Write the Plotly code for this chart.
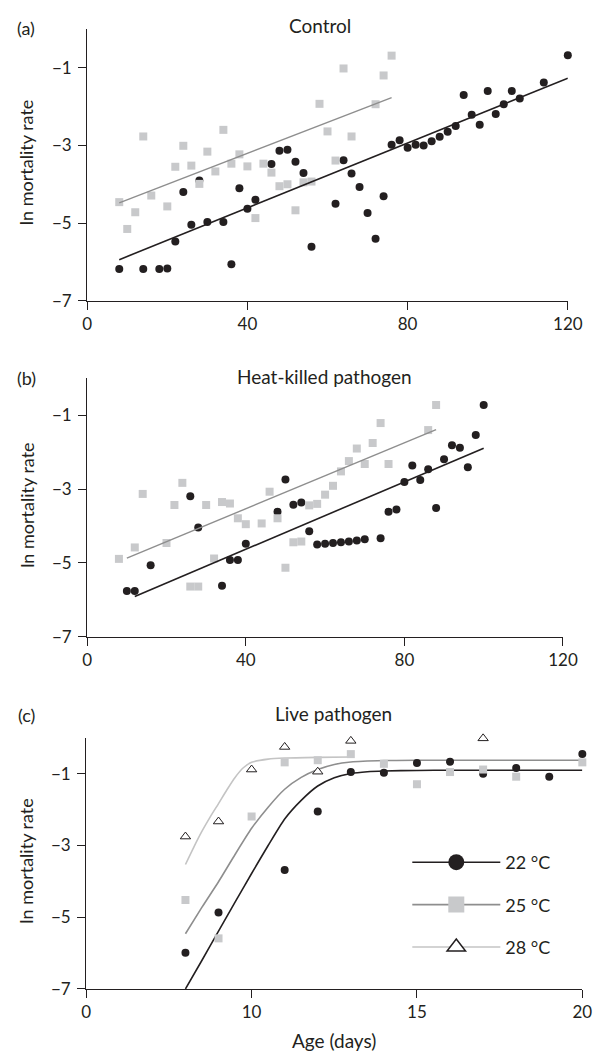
import plotly.graph_objects as go

# ---------------- data ----------------
# (a) Control
a22_x = [8, 14, 18, 20, 22, 24, 26, 28, 30, 34, 36, 38, 40, 42, 46, 48, 50, 52, 54, 56,
         62, 64, 66, 68, 70, 72, 74, 76, 78, 80, 82, 84, 86, 88, 90, 92, 94, 96, 98, 100,
         102, 104, 106, 108, 114, 120]
a22_y = [-6.18, -6.18, -6.18, -6.17, -5.47, -4.20, -5.04, -3.90, -4.97, -4.97, -6.06, -4.10,
         -4.63, -4.40, -3.48, -3.14, -3.11, -3.42, -3.71, -5.61, -4.50, -3.38, -3.72, -4.07,
         -4.74, -5.40, -4.31, -2.98, -2.87, -3.06, -2.98, -3.00, -2.89, -2.78, -2.65, -2.50,
         -1.70, -2.21, -2.47, -1.60, -2.19, -1.94, -1.60, -1.79, -1.38, -0.68]
a25_x = [8, 10, 12, 14, 16, 20, 22, 24, 26, 28, 30, 32, 34, 36, 38, 40, 42, 44, 46, 48, 50,
         52, 54, 56, 58, 60, 62, 64, 66, 72, 74, 76]
a25_y = [-4.46, -5.15, -4.72, -2.77, -4.29, -4.57, -3.55, -3.01, -3.52, -3.99, -3.16, -3.67,
         -2.60, -3.47, -3.23, -3.54, -4.87, -3.47, -3.70, -4.05, -4.00, -4.67, -3.95, -3.93,
         -1.93, -2.64, -3.39, -1.02, -2.77, -1.94, -1.20, -0.69]
a22_fit_x = [8, 120]
a22_fit_y = [-5.94, -1.27]
a25_fit_x = [8, 76]
a25_fit_y = [-4.48, -1.77]

# (b) Heat-killed pathogen
b22_x = [10, 12, 16, 26, 28, 34, 36, 38, 40, 48, 50, 52, 54, 56, 58, 60, 62, 64, 66, 68, 70,
         74, 76, 78, 80, 82, 84, 86, 88, 90, 92, 94, 96, 98, 100]
b22_y = [-5.76, -5.76, -5.06, -3.19, -4.04, -5.62, -4.92, -4.92, -4.48, -3.61, -2.74, -3.42,
         -3.36, -4.14, -4.50, -4.48, -4.46, -4.44, -4.42, -4.39, -4.36, -4.33, -3.61, -3.55,
         -2.81, -2.36, -2.75, -2.46, -3.51, -2.19, -1.81, -1.88, -2.41, -1.53, -0.72]
b25_x = [8, 12, 14, 20, 22, 24, 26, 28, 30, 32, 34, 36, 38, 40, 44, 46, 48, 50, 52, 54, 56,
         58, 60, 62, 64, 66, 68, 70, 72, 74, 76, 86, 88]
b25_y = [-4.89, -4.58, -3.13, -4.46, -3.43, -2.83, -5.64, -5.64, -3.43, -4.88, -3.35, -3.39,
         -3.79, -3.95, -3.93, -3.07, -3.79, -5.13, -4.44, -4.42, -3.44, -3.40, -3.15, -2.91,
         -2.52, -2.24, -1.90, -2.32, -1.75, -1.21, -2.32, -1.40, -0.72]
b22_fit_x = [12, 100]
b22_fit_y = [-5.91, -1.89]
b25_fit_x = [10, 88]
b25_fit_y = [-4.87, -1.39]

# (c) Live pathogen
c22_x = [8, 9, 11, 12, 13, 14, 15, 16, 17, 18, 19, 20]
c22_y = [-5.99, -4.87, -3.68, -2.05, -0.95, -0.97, -0.70, -0.66, -1.00, -0.84, -1.08, -0.45]
c25_x = [8, 9, 10, 11, 12, 13, 14, 15, 16, 17, 18, 20]
c25_y = [-4.52, -5.59, -2.19, -0.68, -0.62, -0.45, -0.72, -1.29, -0.95, -0.88, -1.08, -0.68]
c28_x = [8, 9, 10, 11, 12, 13, 17]
c28_y = [-2.75, -2.33, -0.88, -0.25, -0.94, -0.08, -0.01]

c22_fit_x = [8, 8.5, 9, 9.5, 10, 10.5, 11, 11.5, 12, 12.5, 13, 13.5, 14, 15, 16, 18, 20]
c22_fit_y = [-7.0, -6.2, -5.39, -4.58, -3.78, -3.0, -2.26, -1.74, -1.34, -1.11, -0.99, -0.94,
             -0.92, -0.905, -0.90, -0.90, -0.90]
c25_fit_x = [8, 8.5, 9, 9.5, 10, 10.5, 11, 11.5, 12, 12.5, 13, 14, 15, 20]
c25_fit_y = [-5.46, -4.72, -4.01, -3.25, -2.52, -1.93, -1.43, -1.10, -0.88, -0.74, -0.67,
             -0.63, -0.62, -0.62]
c28_fit_x = [8, 8.25, 8.5, 8.75, 9, 9.25, 9.5, 9.75, 10, 10.5, 11, 12, 13]
c28_fit_y = [-3.53, -3.05, -2.60, -2.20, -1.83, -1.45, -1.10, -0.83, -0.68, -0.59, -0.56,
             -0.54, -0.53]

y_ticks = [-7, -5, -3, -1]
ab_x_ticks = [0, 40, 80, 120]
c_x_tickvals = [5, 10, 15, 20]
c_x_ticktext = ["0", "10", "15", "20"]
legend_names = ["22 °C", "25 °C", "28 °C"]
panel_titles = ["Control", "Heat-killed pathogen", "Live pathogen"]
panel_labels = ["(a)", "(b)", "(c)"]

# ---------------- style ----------------
W, H = 607, 1063
FONT = "Lato"
INK = "#231f20"
SQ = "#c8c9cb"
MID = "#8e8e8e"
LIGHT = "#c4c4c4"

def px_x(p):
    return p / W

def px_y(p):
    return 1 - p / H

# panel geometry (pixels)
dom = {
    "a": dict(x0=85, x1=582, y0=29.1, y1=303.7),
    "b": dict(x0=85, x1=577, y0=382.0, y1=642.8),
    "c": dict(x0=84, x1=597, y0=745.0, y1=998.3),
}

fig = go.Figure()

def scatter_markers(x, y, ax, symbol, color, size=8, line=None):
    fig.add_trace(go.Scatter(
        x=x, y=y, mode="markers", xaxis=ax[0], yaxis=ax[1], showlegend=False,
        cliponaxis=False,
        marker=dict(symbol=symbol, color=color, size=size,
                    line=line if line else dict(width=0)),
        hoverinfo="skip"))

def fit_line(x, y, ax, color, width=1.6, spline=False):
    fig.add_trace(go.Scatter(
        x=x, y=y, mode="lines", xaxis=ax[0], yaxis=ax[1], showlegend=False,
        line=dict(color=color, width=width, shape="spline" if spline else "linear",
                  smoothing=0.6),
        hoverinfo="skip"))

# (a)
scatter_markers(a22_x, a22_y, ("x", "y"), "circle", INK)
scatter_markers(a25_x, a25_y, ("x", "y"), "square", SQ)
fit_line(a25_fit_x, a25_fit_y, ("x", "y"), MID, 1.4)
fit_line(a22_fit_x, a22_fit_y, ("x", "y"), INK, 1.6)

# (b)
scatter_markers(b22_x, b22_y, ("x2", "y2"), "circle", INK)
scatter_markers(b25_x, b25_y, ("x2", "y2"), "square", SQ)
fit_line(b25_fit_x, b25_fit_y, ("x2", "y2"), MID, 1.4)
fit_line(b22_fit_x, b22_fit_y, ("x2", "y2"), INK, 1.6)

# (c)
fit_line(c28_fit_x, c28_fit_y, ("x3", "y3"), LIGHT, 1.6, spline=True)
fit_line(c25_fit_x, c25_fit_y, ("x3", "y3"), MID, 1.6, spline=True)
fit_line(c22_fit_x, c22_fit_y, ("x3", "y3"), INK, 1.6, spline=True)
scatter_markers(c22_x, c22_y, ("x3", "y3"), "circle", INK)
scatter_markers(c25_x, c25_y, ("x3", "y3"), "square", SQ)
scatter_markers(c28_x, c28_y, ("x3", "y3"), "triangle-up", "white", size=9,
                line=dict(color=INK, width=1))

# legend-only traces
leg_styles = [
    dict(symbol="circle", color=INK, size=16, line=dict(width=0)),
    dict(symbol="square", color=SQ, size=16, line=dict(width=0)),
    dict(symbol="triangle-up", color="white", size=16, line=dict(color=INK, width=1.5)),
]
leg_lines = [INK, MID, LIGHT]
for name, ms, lc in zip(legend_names, leg_styles, leg_lines):
    fig.add_trace(go.Scatter(
        x=[None], y=[None], mode="lines+markers", name=name, legendgroup=name,
        xaxis="x3", yaxis="y3", marker=ms, line=dict(color=lc, width=1.6)))

axis_common = dict(showline=True, linecolor=INK, linewidth=1.2, ticks="outside",
                   ticklen=8, tickwidth=1.2, tickcolor=INK, showgrid=False,
                   zeroline=False, tickfont=dict(family=FONT, size=17, color=INK),
                   fixedrange=True)

layout = dict(
    width=W, height=H, margin=dict(l=0, r=0, t=0, b=0),
    paper_bgcolor="white", plot_bgcolor="white",
    font=dict(family=FONT, color=INK),
    legend=dict(x=px_x(416), y=px_y(852), xanchor="left", yanchor="top",
                font=dict(family=FONT, size=18, color=INK), tracegroupgap=16,
                bgcolor="rgba(0,0,0,0)", itemsizing="trace", itemwidth=88),
)
for key, ax_x, ax_y, yname in [("a", "xaxis", "yaxis", "y"), ("b", "xaxis2", "yaxis2", "y2"),
                               ("c", "xaxis3", "yaxis3", "y3")]:
    d = dom[key]
    xd = [px_x(d["x0"]), px_x(d["x1"])]
    yd = [px_y(d["y1"]), px_y(d["y0"])]
    xname = {"a": "x", "b": "x2", "c": "x3"}[key]
    if key == "c":
        xa = dict(axis_common, domain=xd, anchor=yname, range=[5, 20],
                  tickvals=c_x_tickvals, ticktext=c_x_ticktext)
    else:
        xa = dict(axis_common, domain=xd, anchor=yname, range=[0, 120],
                  tickvals=ab_x_ticks)
    ya = dict(axis_common, domain=yd, anchor=xname, range=[-7, 0], tickvals=y_ticks,
              ticklabelstandoff=3)
    layout[ax_x] = xa
    layout[ax_y] = ya

annotations = []
for key, title, lab in zip(["a", "b", "c"], panel_titles, panel_labels):
    d = dom[key]
    title_y = {"a": 26, "b": 380, "c": 720}[key]
    title_x = {"a": 326, "b": 330, "c": 340}[key]
    annotations.append(dict(text=title, x=px_x(title_x), y=px_y(title_y), xref="paper",
                            yref="paper", showarrow=False, xanchor="center", yanchor="middle",
                            font=dict(family=FONT, size=19, color=INK)))
    lab_y = {"a": 28, "b": 382, "c": 722}[key]
    annotations.append(dict(text=lab, x=px_x(22), y=px_y(lab_y), xref="paper", yref="paper",
                            showarrow=False, xanchor="center", yanchor="middle",
                            font=dict(family=FONT, size=18, color=INK)))
    annotations.append(dict(text="ln mortality rate", x=px_x(22),
                            y=px_y((d["y0"] + d["y1"]) / 2 - 2), xref="paper", yref="paper",
                            showarrow=False, textangle=-90, xanchor="center",
                            yanchor="middle", font=dict(family=FONT, size=18, color=INK)))
annotations.append(dict(text="Age (days)", x=px_x(340), y=px_y(1050), xref="paper",
                        yref="paper", showarrow=False, xanchor="center", yanchor="middle",
                        font=dict(family=FONT, size=19, color=INK)))
layout["annotations"] = annotations

fig.update_layout(**layout)
fig.write_html("out.html")
